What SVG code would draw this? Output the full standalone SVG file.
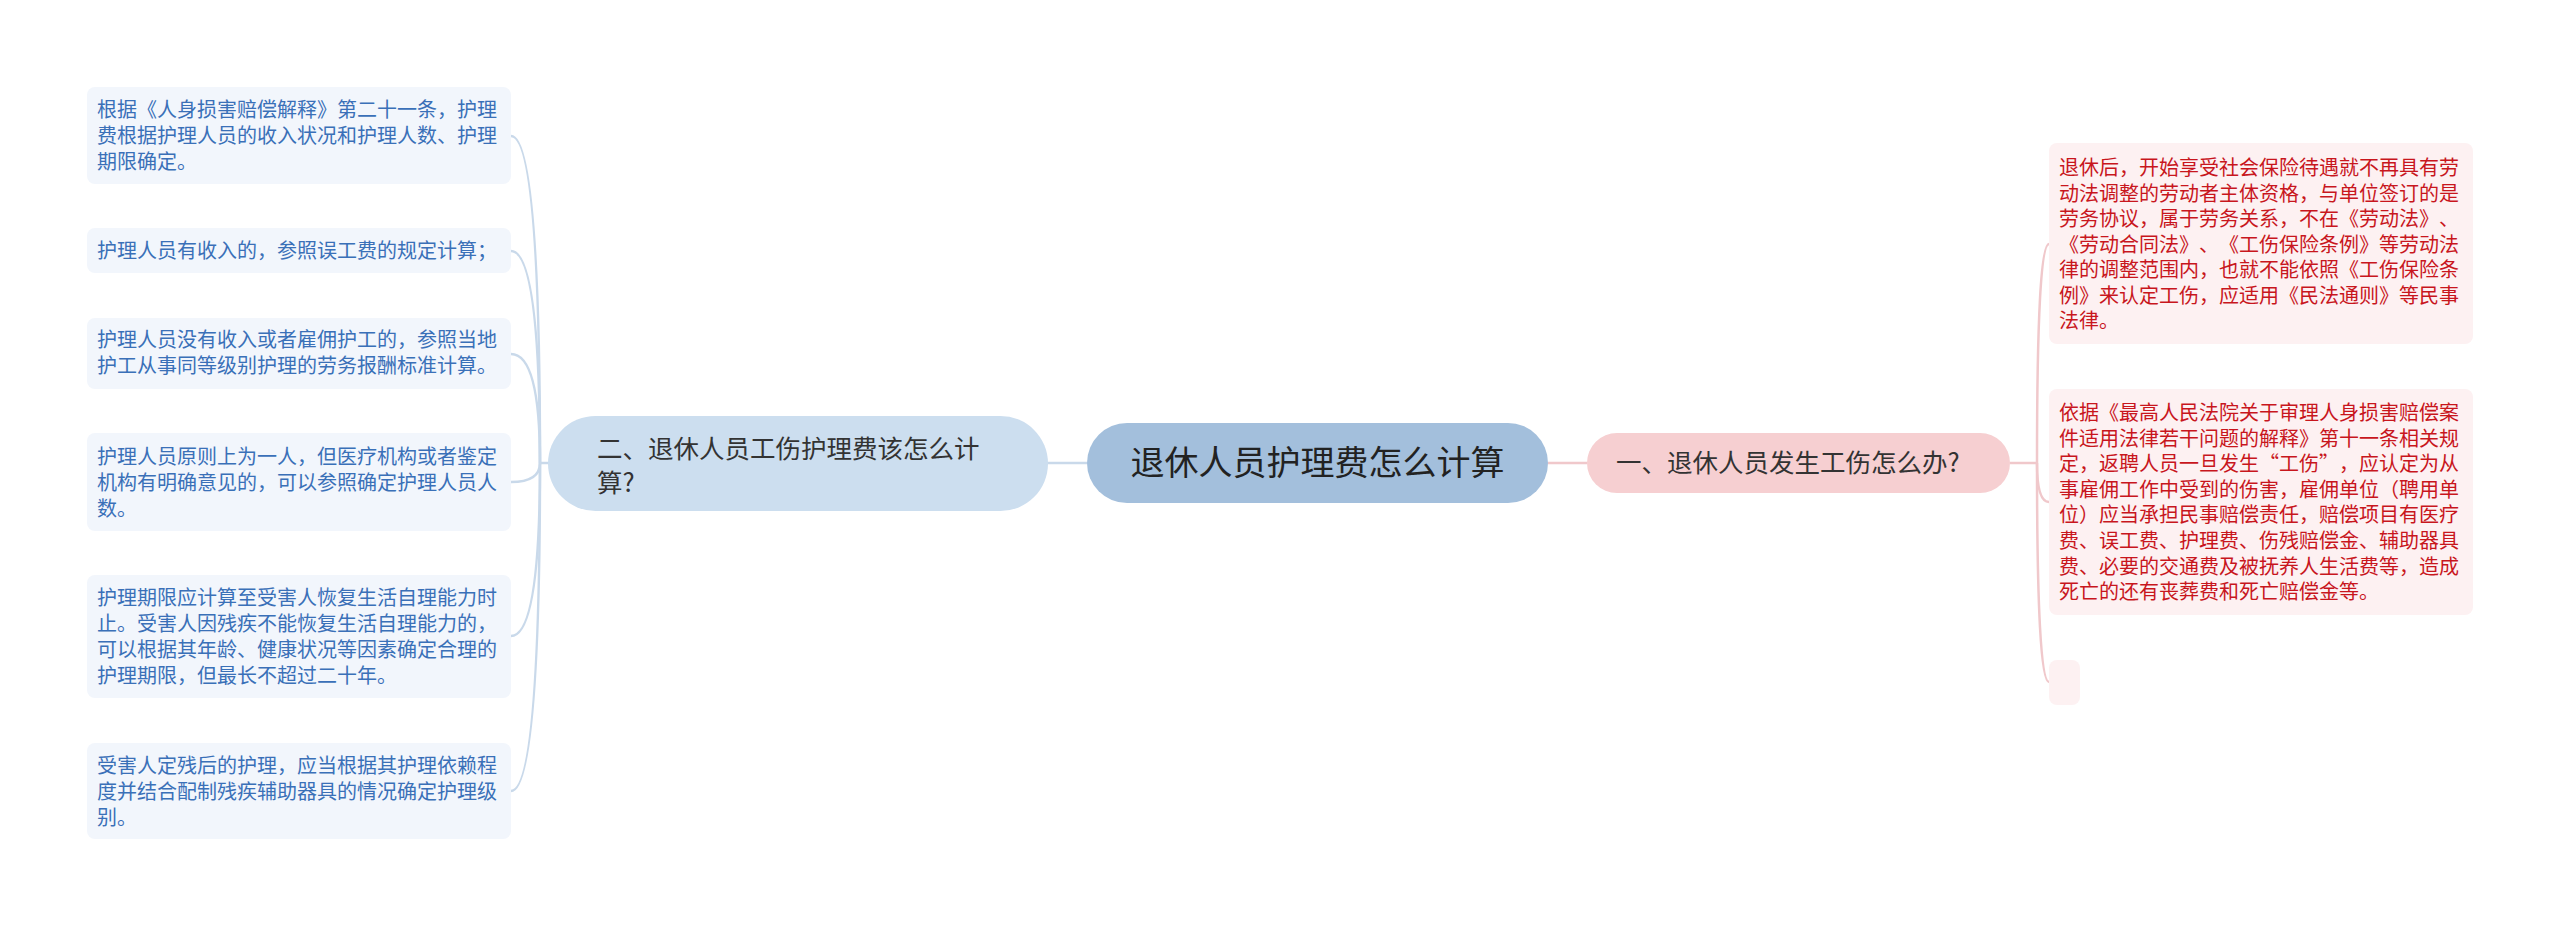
<svg xmlns="http://www.w3.org/2000/svg" width="2560" height="927" viewBox="0 0 2560 927">
<style>
text{font-family:"Noto Sans CJK SC","Noto Sans",sans-serif;text-spacing-trim:space-all;}
.lt{font-size:20px;fill:#3a70b8;}
.rt{font-size:20px;fill:#c8161d;}
.lbox{fill:#f2f6fc;}
.rbox{fill:#fdf1f2;}
.lc{fill:none;stroke:#c9d9ea;stroke-width:2.5;}
.rc{fill:none;stroke:#f0c8cb;stroke-width:2.5;}
</style>
<rect width="2560" height="927" fill="#ffffff"/>
<g id="connectors">
<path class="lc" d="M1087 463 L1047 463"/>
<path class="lc" d="M550 463 L540 463"/>
<path class="lc" d="M540 463 Q540 136 511 136"/>
<path class="lc" d="M540 463 Q540 251 511 251"/>
<path class="lc" d="M540 463 Q540 354 511 354"/>
<path class="lc" d="M540 463 Q540 482 511 482"/>
<path class="lc" d="M540 463 Q540 636 511 636"/>
<path class="lc" d="M540 463 Q540 791 511 791"/>
<path class="rc" d="M1548 463 L1587 463"/>
<path class="rc" d="M2010 463 L2037 463"/>
<path class="rc" d="M2037 463 Q2037 244 2049 244"/>
<path class="rc" d="M2037 463 Q2037 502 2049 502"/>
<path class="rc" d="M2037 463 Q2037 682 2049 682"/>
</g>
<g id="root">
<rect x="1087" y="423" width="461" height="80" rx="40" fill="#a3bfdc"/>
<text x="1317.5" y="475" font-size="34" fill="#222" text-anchor="middle">退休人员护理费怎么计算</text>
</g>
<g id="branch-left">
<rect x="548" y="416" width="500" height="95" rx="47.5" fill="#ccdeef"/>
<text x="597" y="458" font-size="25.5" fill="#333">二、退休人员工伤护理费该怎么计</text>
<text x="597" y="492" font-size="25.5" fill="#333">算?</text>
</g>
<g id="branch-right">
<rect x="1587" y="433" width="423" height="60" rx="30" fill="#f6cfd1"/>
<text x="1616" y="472" font-size="25.5" fill="#333">一、退休人员发生工伤怎么办?</text>
</g>
<g id="leaf-l1">
<rect class="lbox" x="87" y="87" width="424" height="97" rx="8"/>
<text class="lt" x="97" y="117">根据《人身损害赔偿解释》第二十一条，护理</text>
<text class="lt" x="97" y="143">费根据护理人员的收入状况和护理人数、护理</text>
<text class="lt" x="97" y="169">期限确定。</text>
</g>
<g id="leaf-l2">
<rect class="lbox" x="87" y="228" width="424" height="45" rx="8"/>
<text class="lt" x="97" y="258">护理人员有收入的，参照误工费的规定计算；</text>
</g>
<g id="leaf-l3">
<rect class="lbox" x="87" y="318" width="424" height="71" rx="8"/>
<text class="lt" x="97" y="347">护理人员没有收入或者雇佣护工的，参照当地</text>
<text class="lt" x="97" y="373">护工从事同等级别护理的劳务报酬标准计算。</text>
</g>
<g id="leaf-l4">
<rect class="lbox" x="87" y="433" width="424" height="98" rx="8"/>
<text class="lt" x="97" y="464">护理人员原则上为一人，但医疗机构或者鉴定</text>
<text class="lt" x="97" y="490">机构有明确意见的，可以参照确定护理人员人</text>
<text class="lt" x="97" y="516">数。</text>
</g>
<g id="leaf-l5">
<rect class="lbox" x="87" y="575" width="424" height="123" rx="8"/>
<text class="lt" x="97" y="605">护理期限应计算至受害人恢复生活自理能力时</text>
<text class="lt" x="97" y="631">止。受害人因残疾不能恢复生活自理能力的，</text>
<text class="lt" x="97" y="657">可以根据其年龄、健康状况等因素确定合理的</text>
<text class="lt" x="97" y="683">护理期限，但最长不超过二十年。</text>
</g>
<g id="leaf-l6">
<rect class="lbox" x="87" y="743" width="424" height="96" rx="8"/>
<text class="lt" x="97" y="773">受害人定残后的护理，应当根据其护理依赖程</text>
<text class="lt" x="97" y="799">度并结合配制残疾辅助器具的情况确定护理级</text>
<text class="lt" x="97" y="825">别。</text>
</g>
<g id="leaf-r1">
<rect class="rbox" x="2049" y="143" width="424" height="201" rx="8"/>
<text class="rt" x="2059" y="175">退休后，开始享受社会保险待遇就不再具有劳</text>
<text class="rt" x="2059" y="200.5">动法调整的劳动者主体资格，与单位签订的是</text>
<text class="rt" x="2059" y="226">劳务协议，属于劳务关系，不在《劳动法》、</text>
<text class="rt" x="2059" y="251.5">《劳动合同法》、《工伤保险条例》等劳动法</text>
<text class="rt" x="2059" y="277">律的调整范围内，也就不能依照《工伤保险条</text>
<text class="rt" x="2059" y="302.5">例》来认定工伤，应适用《民法通则》等民事</text>
<text class="rt" x="2059" y="328">法律。</text>
</g>
<g id="leaf-r2">
<rect class="rbox" x="2049" y="389" width="424" height="226" rx="8"/>
<text class="rt" x="2059" y="420">依据《最高人民法院关于审理人身损害赔偿案</text>
<text class="rt" x="2059" y="445.6">件适用法律若干问题的解释》第十一条相关规</text>
<text class="rt" x="2059" y="471.2">定，返聘人员一旦发生“工伤”，应认定为从</text>
<text class="rt" x="2059" y="496.8">事雇佣工作中受到的伤害，雇佣单位（聘用单</text>
<text class="rt" x="2059" y="522.4">位）应当承担民事赔偿责任，赔偿项目有医疗</text>
<text class="rt" x="2059" y="548">费、误工费、护理费、伤残赔偿金、辅助器具</text>
<text class="rt" x="2059" y="573.6">费、必要的交通费及被抚养人生活费等，造成</text>
<text class="rt" x="2059" y="599.2">死亡的还有丧葬费和死亡赔偿金等。</text>
</g>
<g id="leaf-r3">
<rect class="rbox" x="2049" y="660" width="31" height="45" rx="8"/>
</g>
</svg>
